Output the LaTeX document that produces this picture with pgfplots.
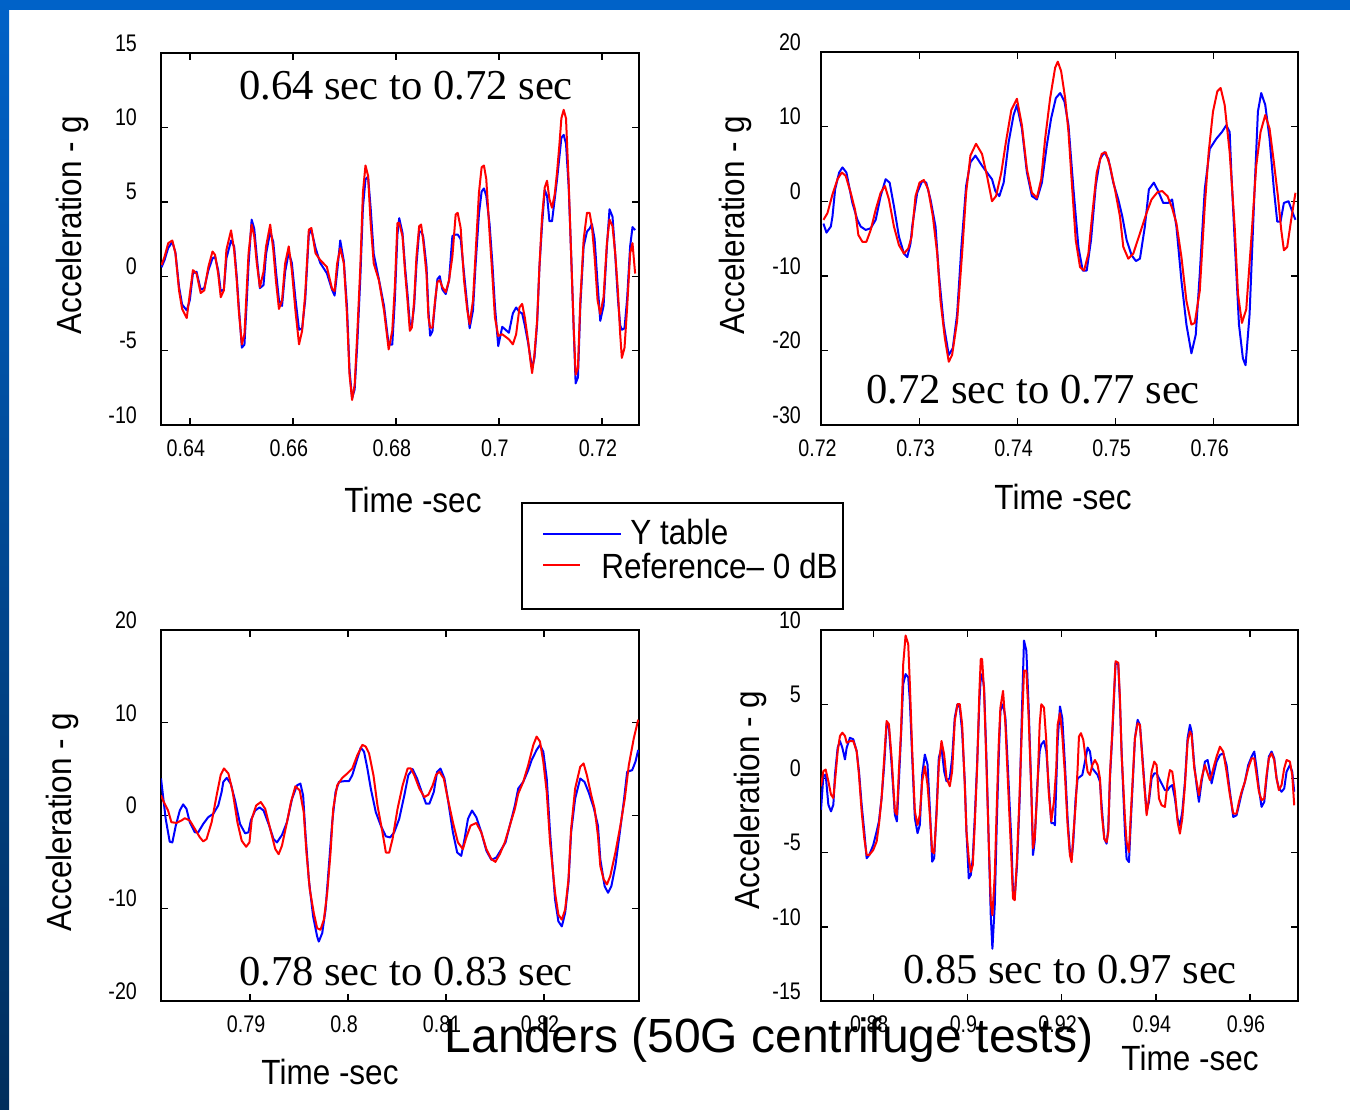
\documentclass[border=0pt]{standalone}
\usepackage{fontspec}
\setmainfont{Liberation Sans}
\newfontfamily\ticknarrow[FakeStretch=0.82]{Liberation Sans}
\newfontfamily\labnarrow[FakeStretch=0.9]{Liberation Sans}
\newfontfamily\timesfont{Liberation Serif}
\usepackage{pgfplots}
\pgfplotsset{compat=1.18}

\definecolor{slideblue}{RGB}{0,98,200}
\definecolor{slidedark}{RGB}{0,46,92}

\newcommand{\axlab}{\labnarrow\fontsize{17.5}{17.5}\selectfont}
\newcommand{\annot}{\timesfont\fontsize{21.3}{21.3}\selectfont}

\pgfplotsset{
  panel/.style={
    scale only axis, anchor=south west,
    axis line style={line width=1.1pt},
    tick style={black, line width=0.7pt},
    major tick length=3.5pt,
    tick label style={font=\ticknarrow\fontsize{12}{12}\selectfont},
    xticklabel style={yshift=-4pt, xshift=-2pt},
    yticklabel style={yshift=5pt},
  },
  ytab/.style={blue, line width=1pt, mark=none, line join=round},
  refd/.style={red, line width=1pt, mark=none, line join=round},
}

\begin{document}
\begin{tikzpicture}[x=0.5pt,y=-0.5pt]
% slide background
\fill[white] (0,0) rectangle (1350,1109);
\fill[slideblue] (0,0) rectangle (1350,10);
\shade[top color=slideblue, bottom color=slidedark] (0,0) rectangle (9,1109);

% ---------- 0.64 to 0.72 sec ----------
\begin{axis}[panel, at={(80.5pt,-212.5pt)}, width=239pt, height=186pt,
  xmin=0.6344, xmax=0.7272, ymin=-10, ymax=15,
  xtick={0.64,0.66,0.68,0.70,0.72}, xticklabels={0.64,0.66,0.68,0.7,0.72},
  ytick={-10,-5,0,5,10,15}, yticklabels={-10,-5,0,5,10,15},
  yticklabel style={xshift=-8.5pt}]
\addplot[ytab] coordinates {
(0.6345,0.6) (0.6351,1.1) (0.6358,1.9) (0.6366,2.3) (0.6372,1.6) (0.6379,-0.7) (0.6385,-1.9) (0.6394,-2.3) (0.6400,-1.6) (0.6406,0.2) (0.6413,0.3) (0.6421,-0.9) (0.6428,-0.8) (0.6436,0.4) (0.6444,1.2) (0.6449,1.3) (0.6455,0.4) (0.6460,-1.0) (0.6466,-0.9) (0.6471,1.2) (0.6480,2.4) (0.6486,2.0) (0.6491,0.0) (0.6495,-2.0) (0.6501,-4.8) (0.6506,-4.6) (0.6510,-2.0) (0.6514,0.8) (0.6520,3.8) (0.6525,3.2) (0.6530,1.3) (0.6536,-0.8) (0.6543,-0.6) (0.6548,1.5) (0.6556,3.0) (0.6562,2.3) (0.6567,0.4) (0.6573,-1.6) (0.6579,-2.0) (0.6585,0.3) (0.6592,1.6) (0.6598,0.9) (0.6605,-1.5) (0.6612,-3.6) (0.6618,-3.5) (0.6624,-1.6) (0.6631,2.8) (0.6636,3.1) (0.6644,1.9) (0.6653,0.9) (0.6666,0.2) (0.6676,-0.9) (0.6681,-1.3) (0.6686,0.3) (0.6692,2.4) (0.6699,1.0) (0.6705,-2.0) (0.6710,-6.3) (0.6715,-8.2) (0.6720,-7.6) (0.6725,-4.6) (0.6731,-0.1) (0.6736,4.6) (0.6741,6.5) (0.6746,6.7) (0.6751,4.6) (0.6757,1.5) (0.6767,-0.2) (0.6777,-2.0) (0.6786,-4.6) (0.6793,-4.6) (0.6798,-1.6) (0.6803,2.8)
(0.68065,3.9) (0.68129,2.9) (0.68181,0.5) (0.68226,-1.2) (0.68271,-3.2) (0.68310,-3.3) (0.68355,-2.0) (0.68400,0.8) (0.68452,3.0) (0.68490,3.0) (0.68529,2.7) (0.68594,0.7) (0.68632,-2.3) (0.68665,-4.0) (0.68710,-3.7) (0.68761,-1.8) (0.68806,-0.2) (0.68852,0.0) (0.68903,-0.9) (0.68968,-1.2) (0.69032,-0.3) (0.69097,2.7) (0.69161,2.8) (0.69200,2.8) (0.69258,2.5) (0.69323,0.2) (0.69387,-2.0) (0.69432,-3.5) (0.69497,-2.3) (0.69548,0.8) (0.69613,4.2) (0.69665,5.7) (0.69710,5.9) (0.69755,5.4) (0.69819,3.5) (0.69871,1.0) (0.69923,-2.0) (0.69987,-4.7) (0.70065,-3.4) (0.70194,-3.8) (0.70271,-2.5) (0.70335,-2.1) (0.70400,-2.4) (0.70452,-2.5) (0.70503,-3.3) (0.70568,-4.5) (0.70613,-5.5) (0.70645,-6.2) (0.70690,-5.5) (0.70742,-3.2) (0.70787,0.6) (0.70839,3.5) (0.70890,5.8) (0.70935,5.4) (0.70981,3.7) (0.71032,3.7) (0.71084,5.2) (0.71129,6.5) (0.71174,8.0) (0.71213,9.3) (0.71258,9.5) (0.71303,8.9) (0.71355,6.0) (0.71406,1.2) (0.71452,-3.5) (0.71490,-7.2) (0.71535,-6.8) (0.71581,-2.0) (0.71645,2.0) (0.71710,3.0) (0.71761,3.2) (0.71806,3.5) (0.71858,2.5) (0.71916,-0.5) (0.71968,-3.0) (0.72032,-2.0) (0.72097,2.0) (0.72148,4.5) (0.72206,4.0) (0.72258,1.5) (0.72310,-1.5) (0.72355,-3.3) (0.72387,-3.6) (0.72439,-3.5) (0.72490,-1.5) (0.72548,2.0) (0.72594,3.3) (0.72645,3.1)
};
\addplot[refd] coordinates {
(0.6345,0.75) (0.6351,1.32) (0.6358,2.22) (0.6366,2.40) (0.6372,1.54) (0.6379,-0.95) (0.6385,-2.20) (0.6394,-2.81) (0.6400,-1.18) (0.6406,0.41) (0.6413,0.18) (0.6421,-1.13) (0.6428,-0.95) (0.6436,0.63) (0.6444,1.66) (0.6449,1.43) (0.6455,0.18) (0.6460,-1.41) (0.6466,-0.95) (0.6471,1.77) (0.6480,3.08) (0.6486,1.77) (0.6491,-0.27) (0.6495,-2.31) (0.6501,-4.58) (0.6506,-3.90) (0.6510,-1.18) (0.6514,1.54) (0.6520,3.47) (0.6525,2.68) (0.6530,0.86) (0.6536,-0.73) (0.6543,0.29) (0.6548,2.00) (0.6556,3.47) (0.6562,1.77) (0.6567,-0.27) (0.6573,-2.20) (0.6579,-1.63) (0.6585,0.86) (0.6592,2.00) (0.6598,0.41) (0.6605,-2.31) (0.6612,-4.58) (0.6618,-3.67) (0.6624,-1.18) (0.6631,3.13) (0.6636,3.24) (0.6644,1.54) (0.6653,1.09) (0.6666,0.63) (0.6676,-0.84) (0.6681,-1.00) (0.6686,0.86) (0.6692,1.88) (0.6699,0.86) (0.6705,-2.54) (0.6710,-6.62) (0.6715,-8.32) (0.6720,-7.30) (0.6725,-3.90) (0.6731,0.63) (0.6736,5.62) (0.6741,7.44) (0.6746,6.76) (0.6751,3.58) (0.6757,0.86) (0.6767,-0.27) (0.6777,-2.31) (0.6786,-4.92) (0.6793,-3.67) (0.6798,-0.73) (0.6803,3.58)
(0.68065,3.58) (0.68129,2.68) (0.68181,0.18) (0.68226,-1.63) (0.68271,-3.67) (0.68310,-3.45) (0.68355,-1.63) (0.68400,1.32) (0.68452,3.36) (0.68490,3.47) (0.68529,2.45) (0.68594,0.18) (0.68632,-2.77) (0.68665,-3.45) (0.68710,-3.45) (0.68761,-1.63) (0.68806,-0.39) (0.68852,-0.27) (0.68903,-0.73) (0.68968,-1.07) (0.69032,-0.27) (0.69097,1.32) (0.69161,4.15) (0.69200,4.26) (0.69258,3.24) (0.69323,-0.27) (0.69387,-2.31) (0.69432,-3.22) (0.69497,-1.63) (0.69548,1.54) (0.69613,5.62) (0.69665,7.32) (0.69710,7.44) (0.69755,6.53) (0.69819,2.90) (0.69871,0.18) (0.69923,-2.77) (0.69987,-4.01) (0.70065,-3.90) (0.70194,-4.24) (0.70271,-4.58) (0.70335,-3.90) (0.70400,-2.09) (0.70452,-1.86) (0.70503,-2.77) (0.70568,-4.35) (0.70613,-5.71) (0.70645,-6.51) (0.70690,-5.26) (0.70742,-2.99) (0.70787,0.63) (0.70839,4.04) (0.70890,5.96) (0.70935,6.42) (0.70981,5.17) (0.71032,4.60) (0.71084,5.51) (0.71129,6.98) (0.71174,8.80) (0.71213,10.61) (0.71258,11.18) (0.71303,10.61) (0.71355,6.30) (0.71406,1.09) (0.71452,-3.45) (0.71490,-6.62) (0.71535,-6.17) (0.71581,-1.63) (0.71645,2.45) (0.71710,4.26) (0.71761,4.26) (0.71806,3.36) (0.71858,1.32) (0.71916,-1.63) (0.71968,-2.54) (0.72032,-1.41) (0.72097,2.22) (0.72148,3.81) (0.72206,3.36) (0.72258,1.54) (0.72310,-0.95) (0.72355,-3.90) (0.72387,-5.49) (0.72439,-4.81) (0.72490,-2.09) (0.72548,1.54) (0.72594,2.22) (0.72645,0.18)
};
\end{axis}

% ---------- 0.72 to 0.77 sec ----------
\begin{axis}[panel, at={(410.5pt,-212.5pt)}, width=238.5pt, height=186.5pt,
  xmin=0.71995, xmax=0.7686, ymin=-30, ymax=20,
  xtick={0.72,0.73,0.74,0.75,0.76}, xticklabels={0.72,0.73,0.74,0.75,0.76},
  ytick={-30,-20,-10,0,10,20}, yticklabels={-30,-20,-10,0,10,20},
  yticklabel style={xshift=-6.5pt}]
\addplot[ytab] coordinates {
(0.7202,-3.0) (0.72051,-4.21) (0.72095,-3.40) (0.72112,-2.04) (0.72139,1.59) (0.72180,3.85) (0.72214,4.53) (0.72254,3.85) (0.72315,-0.23) (0.72366,-2.49) (0.72400,-3.40) (0.72451,-3.85) (0.72502,-3.62) (0.72553,-2.49) (0.72603,0.68) (0.72654,2.95) (0.72695,2.49) (0.72739,-0.68) (0.72790,-4.76) (0.72841,-7.02) (0.72875,-7.48) (0.72908,-5.66) (0.72925,-3.40) (0.72976,1.13) (0.73027,2.72) (0.73068,2.49) (0.73112,0.23) (0.73163,-3.40) (0.73197,-9.74) (0.73247,-16.54) (0.73298,-20.62) (0.73339,-19.71) (0.73383,-15.18) (0.73427,-6.12) (0.73475,2.04) (0.73519,5.21) (0.73570,6.12) (0.73637,4.76) (0.73688,3.85) (0.73739,2.95) (0.73773,1.36) (0.73814,0.68) (0.73858,2.49) (0.73909,7.93) (0.73959,11.55) (0.73993,12.91) (0.74044,9.74) (0.74095,3.85) (0.74146,0.68) (0.74197,0.23) (0.74248,2.49) (0.74298,7.48) (0.74342,11.10) (0.74390,13.82) (0.74434,14.50) (0.74478,13.37) (0.74519,10.19) (0.74570,1.59) (0.74620,-6.12) (0.74664,-9.29) (0.74705,-9.29) (0.74749,-5.21) (0.74797,2.04) (0.74841,5.66) (0.74885,6.57) (0.74926,5.66) (0.74976,2.49) (0.75027,0.23) (0.75068,-2.04) (0.75112,-5.21) (0.75163,-7.25) (0.75207,-8.02) (0.75248,-7.70) (0.75298,-3.40) (0.75339,1.59) (0.75390,2.49) (0.75434,1.36) (0.75485,-0.23) (0.75536,-0.23) (0.75576,0.23) (0.75620,-3.40) (0.75671,-10.65) (0.75722,-16.54) (0.75773,-20.39) (0.75817,-17.90) (0.75858,-9.74) (0.75909,1.59) (0.75960,7.02) (0.76027,8.38) (0.76085,9.29) (0.76129,10.19) (0.76163,9.29) (0.76180,3.85) (0.76214,-5.21) (0.76258,-16.54) (0.76298,-21.07) (0.76325,-21.98) (0.76366,-15.18) (0.76410,-0.68) (0.76451,12.01) (0.76485,14.50) (0.76526,12.91) (0.76570,8.38) (0.76614,1.59) (0.76648,-2.72) (0.76682,-2.72) (0.76716,-0.23) (0.76763,0.00) (0.76807,-1.59) (0.76834,-2.49)
};
\addplot[refd] coordinates {
(0.7202,-2.5) (0.72061,-1.59) (0.72112,0.91) (0.72163,2.95) (0.72207,3.85) (0.72247,3.40) (0.72298,1.13) (0.72342,-1.13) (0.72376,-4.53) (0.72417,-5.44) (0.72458,-5.44) (0.72502,-3.85) (0.72553,-1.13) (0.72603,1.13) (0.72647,2.04) (0.72688,0.23) (0.72739,-3.40) (0.72790,-5.89) (0.72841,-7.02) (0.72885,-6.34) (0.72919,-4.76) (0.72959,0.68) (0.73000,2.49) (0.73044,2.85) (0.73088,1.59) (0.73136,-2.04) (0.73180,-7.02) (0.73214,-13.37) (0.73258,-18.35) (0.73298,-21.52) (0.73332,-20.62) (0.73383,-16.09) (0.73434,-7.02) (0.73475,1.13) (0.73519,6.12) (0.73576,7.70) (0.73637,6.34) (0.73688,3.40) (0.73739,0.00) (0.73780,0.68) (0.73834,3.85) (0.73881,7.93) (0.73936,12.23) (0.73993,13.73) (0.74044,10.19) (0.74095,4.30) (0.74146,1.13) (0.74197,0.45) (0.74241,2.95) (0.74281,8.38) (0.74332,13.82) (0.74383,17.90) (0.74410,18.71) (0.74444,17.44) (0.74485,13.82) (0.74519,9.29) (0.74553,2.49) (0.74593,-5.21) (0.74637,-8.84) (0.74678,-9.29) (0.74722,-7.02) (0.74763,-1.59) (0.74807,3.85) (0.74858,6.34) (0.74898,6.57) (0.74942,4.76) (0.74993,1.59) (0.75044,-2.04) (0.75078,-6.12) (0.75129,-7.70) (0.75180,-7.02) (0.75248,-4.30) (0.75315,-1.59) (0.75366,0.23) (0.75427,1.22) (0.75475,1.36) (0.75529,0.68) (0.75576,-0.91) (0.75620,-2.95) (0.75671,-7.48) (0.75722,-13.37) (0.75773,-16.54) (0.75807,-16.31) (0.75858,-12.01) (0.75909,-0.68) (0.75949,6.57) (0.75993,12.01) (0.76037,14.73) (0.76071,15.18) (0.76112,12.91) (0.76163,6.57) (0.76214,-3.40) (0.76248,-12.46) (0.76288,-16.31) (0.76332,-14.50) (0.76383,-5.21) (0.76434,4.76) (0.76478,9.29) (0.76526,11.55) (0.76570,9.74) (0.76614,5.21) (0.76655,0.68) (0.76689,-3.85) (0.76716,-6.57) (0.76750,-6.12) (0.76790,-2.49) (0.76834,1.13)
};
\end{axis}

% ---------- 0.78 to 0.83 sec ----------
\begin{axis}[panel, at={(80.5pt,-500.5pt)}, width=239pt, height=185.5pt,
  xmin=0.7809, xmax=0.8297, ymin=-20, ymax=20,
  xtick={0.79,0.80,0.81,0.82}, xticklabels={0.79,0.8,0.81,0.82},
  ytick={-20,-10,0,10,20}, yticklabels={-20,-10,0,10,20},
  yticklabel style={xshift=-8.5pt}]
\addplot[ytab] coordinates {
(0.7809,4.0) (0.78138,-0.36) (0.78179,-2.83) (0.78206,-2.90) (0.78241,-1.09) (0.78282,0.54) (0.78316,1.20) (0.78350,0.72) (0.78384,-0.72) (0.78436,-1.81) (0.78470,-1.81) (0.78521,-0.91) (0.78572,-0.18) (0.78624,0.18) (0.78675,1.09) (0.78709,2.54) (0.78726,3.62) (0.78761,4.06) (0.78802,3.44) (0.78846,1.63) (0.78897,-0.91) (0.78949,-1.92) (0.78983,-1.81) (0.79007,-0.54) (0.79051,0.54) (0.79096,0.87) (0.79137,0.54) (0.79188,-0.91) (0.79239,-2.54) (0.79274,-2.90) (0.79325,-2.10) (0.79376,-0.72) (0.79428,1.81) (0.79479,3.26) (0.79513,3.44) (0.79541,2.17) (0.79564,-1.81) (0.79599,-6.88) (0.79643,-10.87) (0.79684,-13.04) (0.79701,-13.59) (0.79736,-12.68) (0.79770,-10.14) (0.79804,-5.43) (0.79838,-0.72) (0.79872,2.54) (0.79907,3.62) (0.79958,3.70) (0.80009,3.70) (0.80043,4.35) (0.80095,6.16) (0.80129,7.32) (0.80163,6.88) (0.80197,5.07) (0.80232,2.90) (0.80283,0.36) (0.80334,-1.09) (0.80386,-2.25) (0.80430,-2.36) (0.80471,-1.81) (0.80522,-0.36) (0.80574,2.17) (0.80615,4.35) (0.80659,5.00) (0.80704,3.99) (0.80752,2.54) (0.80796,1.27) (0.80830,1.27) (0.80875,2.54) (0.80909,4.71) (0.80943,5.07) (0.80984,3.99) (0.81018,1.81) (0.81070,-1.81) (0.81114,-3.99) (0.81155,-4.35) (0.81189,-2.54) (0.81224,-0.36) (0.81265,0.54) (0.81309,-0.18) (0.81360,-1.81) (0.81412,-3.80) (0.81463,-4.78) (0.81514,-4.53) (0.81566,-3.62) (0.81607,-2.90) (0.81651,-1.09) (0.81703,1.09) (0.81737,2.90) (0.81788,3.62) (0.81839,4.89) (0.81874,5.98) (0.81925,7.07) (0.81959,7.61) (0.81993,6.88) (0.82028,3.99) (0.82062,-1.81) (0.82113,-9.06) (0.82147,-11.41) (0.82182,-11.96) (0.82216,-10.51) (0.82250,-7.25) (0.82277,-1.81) (0.82318,1.81) (0.82370,3.99) (0.82414,3.62) (0.82455,2.54) (0.82506,0.91) (0.82551,-1.09) (0.82575,-4.71) (0.82619,-7.61) (0.82654,-8.33) (0.82688,-7.61) (0.82729,-5.43) (0.82770,-2.17) (0.82814,1.45) (0.82849,4.71) (0.82900,4.89) (0.82934,5.80) (0.82962,7.07)
};
\addplot[refd] coordinates {
(0.7809,2.2) (0.78111,1.63) (0.78162,0.54) (0.78196,-0.72) (0.78247,-0.80) (0.78299,-0.54) (0.78333,-0.29) (0.78384,-0.54) (0.78436,-1.45) (0.78487,-2.36) (0.78521,-2.79) (0.78555,-2.54) (0.78607,-0.72) (0.78658,2.17) (0.78699,4.35) (0.78733,5.07) (0.78778,4.53) (0.78822,2.54) (0.78870,-0.72) (0.78914,-2.72) (0.78959,-3.37) (0.78993,-2.90) (0.79017,-0.36) (0.79062,1.09) (0.79109,1.45) (0.79154,0.72) (0.79205,-1.45) (0.79257,-3.62) (0.79291,-4.17) (0.79325,-3.26) (0.79376,-0.72) (0.79417,1.45) (0.79462,3.15) (0.79506,2.72) (0.79547,0.36) (0.79575,-3.99) (0.79609,-7.97) (0.79650,-10.51) (0.79684,-12.14) (0.79718,-12.32) (0.79753,-11.23) (0.79787,-8.33) (0.79821,-3.99) (0.79848,0.72) (0.79889,3.26) (0.79941,4.06) (0.79992,4.53) (0.80043,5.07) (0.80095,6.52) (0.80146,7.61) (0.80180,7.43) (0.80214,6.70) (0.80259,4.35) (0.80300,1.09) (0.80351,-1.81) (0.80386,-3.99) (0.80420,-3.99) (0.80454,-2.54) (0.80505,0.72) (0.80557,3.26) (0.80608,5.07) (0.80642,5.07) (0.80676,4.35) (0.80728,2.90) (0.80779,1.99) (0.80820,2.25) (0.80864,3.26) (0.80899,4.42) (0.80933,4.71) (0.80977,3.99) (0.81018,1.81) (0.81070,-0.72) (0.81121,-2.90) (0.81172,-3.62) (0.81207,-2.36) (0.81251,-1.09) (0.81309,-0.80) (0.81360,-1.81) (0.81412,-3.62) (0.81463,-4.71) (0.81504,-5.00) (0.81549,-4.17) (0.81600,-2.90) (0.81651,-1.09) (0.81703,0.72) (0.81737,2.36) (0.81788,3.62) (0.81839,5.43) (0.81891,7.61) (0.81925,8.51) (0.81959,7.97) (0.81993,5.80) (0.82028,2.54) (0.82062,-2.90) (0.82113,-8.33) (0.82147,-10.69) (0.82182,-11.23) (0.82216,-10.14) (0.82250,-6.88) (0.82277,-1.45) (0.82318,2.90) (0.82370,5.25) (0.82404,5.62) (0.82438,4.35) (0.82483,2.17) (0.82517,0.72) (0.82551,-2.17) (0.82575,-5.43) (0.82609,-6.88) (0.82643,-7.43) (0.82677,-6.52) (0.82729,-3.99) (0.82780,-1.09) (0.82825,1.81) (0.82866,5.43) (0.82917,8.33) (0.82962,10.33)
};
\end{axis}

% ---------- 0.85 to 0.97 sec ----------
\begin{axis}[panel, at={(410.5pt,-500.5pt)}, width=238.5pt, height=185.5pt,
  xmin=0.8689, xmax=0.9702, ymin=-15, ymax=10,
  xtick={0.88,0.90,0.92,0.94,0.96}, xticklabels={0.88,0.9,0.92,0.94,0.96},
  ytick={-15,-10,-5,0,5,10}, yticklabels={-15,-10,-5,0,5,10},
  yticklabel style={xshift=-6.5pt}]
\addplot[ytab] coordinates {
(0.8689,-2.11) (0.86940,0.15) (0.86989,0.26) (0.87046,-1.77) (0.87102,-2.22) (0.87152,-1.77) (0.87187,0.26) (0.87244,2.07) (0.87293,2.52) (0.87343,2.07) (0.87399,1.28) (0.87435,2.07) (0.87505,2.74) (0.87576,2.63) (0.87647,1.84) (0.87696,0.49) (0.87753,-1.77) (0.87809,-3.58) (0.87859,-5.38) (0.87915,-5.16) (0.88000,-4.48) (0.88071,-3.58) (0.88120,-2.90) (0.88177,-1.32) (0.88233,0.94) (0.88283,3.65) (0.88332,3.42) (0.88389,0.94) (0.88459,-2.45) (0.88502,-2.90) (0.88544,-0.19) (0.88587,2.74) (0.88636,6.35) (0.88686,7.03) (0.88742,6.81) (0.88777,5.23) (0.88827,1.39) (0.88883,-2.67) (0.88940,-3.69) (0.88989,-3.13) (0.89039,0.26) (0.89095,1.61) (0.89152,0.94) (0.89201,-1.98) (0.89251,-5.61) (0.89293,-5.38) (0.89343,-2.22) (0.89392,1.39) (0.89449,2.07) (0.89505,0.49) (0.89555,-0.19) (0.89625,0.03) (0.89675,1.39) (0.89731,4.10) (0.89788,5.00) (0.89837,4.77) (0.89887,3.19) (0.89943,-0.19) (0.89979,-3.58) (0.90028,-6.74) (0.90071,-6.51) (0.90113,-5.38) (0.90155,-2.67) (0.90205,0.94) (0.90254,5.23) (0.90283,6.81) (0.90311,7.03) (0.90353,6.13) (0.90403,1.39) (0.90452,-4.26) (0.90495,-9.22) (0.90530,-11.48) (0.90580,-8.54) (0.90622,-3.13) (0.90664,1.39) (0.90700,4.55) (0.90756,5.00) (0.90806,4.10) (0.90862,0.49) (0.90933,-4.26) (0.90968,-7.64) (0.91004,-7.98) (0.91053,-5.84) (0.91110,-1.32) (0.91159,4.77) (0.91201,9.29) (0.91251,8.61) (0.91300,4.77) (0.91357,-0.87) (0.91392,-5.16) (0.91428,-4.26) (0.91484,-0.42) (0.91534,1.84) (0.91569,2.29) (0.91625,2.52) (0.91675,1.84) (0.91724,-0.42) (0.91781,-3.01) (0.91837,-3.01) (0.91858,-3.16) (0.91915,2.48) (0.91965,4.85) (0.92014,4.06) (0.92071,0.90) (0.92127,-2.71) (0.92177,-4.97) (0.92212,-5.42) (0.92248,-4.29) (0.92297,-1.35) (0.92340,0.00) (0.92389,0.11) (0.92439,0.23) (0.92495,1.13) (0.92552,2.08) (0.92602,1.81) (0.92651,0.68) (0.92708,0.45) (0.92764,0.23) (0.92814,-0.23) (0.92849,-1.81) (0.92906,-4.06) (0.92955,-4.40) (0.92991,-3.39) (0.93026,0.00) (0.93076,2.93) (0.93118,5.87) (0.93146,7.79) (0.93203,7.67) (0.93238,5.19) (0.93274,1.81) (0.93309,-0.90) (0.93345,-3.61) (0.93380,-5.42) (0.93430,-5.64) (0.93472,-2.71) (0.93522,0.45) (0.93557,2.71) (0.93614,3.95) (0.93663,3.61) (0.93713,1.58) (0.93755,-0.23) (0.93805,-2.26) (0.93854,-1.58) (0.93911,0.00) (0.93967,0.34) (0.94017,0.34) (0.94067,0.00) (0.94123,-0.34) (0.94194,-0.79) (0.94251,-0.79) (0.94300,-0.56) (0.94350,-0.45) (0.94406,-1.35) (0.94463,-2.71) (0.94512,-3.16) (0.94562,-2.26) (0.94619,-0.23) (0.94675,2.71) (0.94725,3.61) (0.94760,3.16) (0.94817,0.90) (0.94866,-0.45) (0.94916,-1.58) (0.94972,-0.23) (0.95043,1.13) (0.95100,1.24) (0.95149,0.45) (0.95185,-0.34) (0.95241,0.45) (0.95291,1.13) (0.95362,1.58) (0.95432,1.69) (0.95503,0.90) (0.95574,-0.90) (0.95645,-2.60) (0.95715,-2.48) (0.95765,-1.81) (0.95822,-1.02) (0.95892,-0.23) (0.95963,0.90) (0.96034,1.47) (0.96091,1.81) (0.96140,0.68) (0.96190,-0.68) (0.96246,-1.92) (0.96303,-1.58) (0.96352,0.00) (0.96402,1.47) (0.96459,1.81) (0.96515,1.35) (0.96565,0.00) (0.96614,-0.68) (0.96671,-0.90) (0.96727,-0.68) (0.96777,0.45) (0.96848,0.90) (0.96897,0.45) (0.96940,-0.90)
};
\addplot[refd] coordinates {
(0.8689,-0.53) (0.86940,0.49) (0.86989,0.60) (0.87046,-0.19) (0.87102,-1.09) (0.87152,-1.32) (0.87187,-0.19) (0.87244,1.84) (0.87293,2.86) (0.87343,3.08) (0.87399,2.86) (0.87435,2.40) (0.87505,2.52) (0.87576,2.52) (0.87647,1.84) (0.87696,0.26) (0.87753,-2.22) (0.87809,-4.03) (0.87859,-5.16) (0.87915,-5.16) (0.88000,-4.82) (0.88071,-4.26) (0.88120,-3.13) (0.88177,-1.32) (0.88233,1.39) (0.88283,3.87) (0.88332,3.65) (0.88389,1.39) (0.88459,-2.22) (0.88502,-2.45) (0.88544,0.49) (0.88587,2.97) (0.88636,7.71) (0.88686,9.63) (0.88742,9.06) (0.88777,6.35) (0.88827,1.84) (0.88883,-2.22) (0.88940,-3.13) (0.88989,-2.45) (0.89039,-0.19) (0.89095,0.82) (0.89152,-0.42) (0.89201,-2.45) (0.89251,-4.93) (0.89293,-5.05) (0.89343,-2.45) (0.89392,0.94) (0.89449,2.52) (0.89505,1.61) (0.89555,0.03) (0.89625,-0.53) (0.89675,0.49) (0.89731,3.87) (0.89788,5.00) (0.89837,5.00) (0.89887,3.65) (0.89943,-0.42) (0.89979,-3.58) (0.90028,-5.38) (0.90071,-6.29) (0.90113,-5.84) (0.90155,-3.13) (0.90205,0.71) (0.90254,5.90) (0.90283,8.05) (0.90311,8.05) (0.90353,5.90) (0.90403,0.94) (0.90452,-4.26) (0.90495,-8.32) (0.90530,-9.22) (0.90580,-6.51) (0.90622,-1.98) (0.90664,2.29) (0.90700,4.77) (0.90756,5.90) (0.90806,3.65) (0.90862,-0.42) (0.90933,-5.38) (0.90968,-8.09) (0.91004,-8.21) (0.91053,-5.38) (0.91110,-0.87) (0.91159,3.65) (0.91201,7.26) (0.91251,7.26) (0.91300,4.10) (0.91357,-0.87) (0.91392,-4.70) (0.91428,-4.03) (0.91484,-0.87) (0.91534,3.65) (0.91569,5.00) (0.91625,4.77) (0.91675,2.52) (0.91724,-0.87) (0.91781,-2.90) (0.91837,-1.55) (0.91887,0.71) (0.91915,3.61) (0.91965,4.40) (0.92014,2.93) (0.92071,0.23) (0.92127,-3.16) (0.92177,-5.19) (0.92212,-5.64) (0.92248,-3.84) (0.92297,-1.81) (0.92340,0.68) (0.92368,2.82) (0.92410,3.05) (0.92460,2.60) (0.92510,1.35) (0.92552,0.45) (0.92602,0.23) (0.92651,0.90) (0.92708,1.24) (0.92764,0.90) (0.92814,0.00) (0.92849,-2.26) (0.92906,-4.06) (0.92955,-4.29) (0.92991,-3.61) (0.93026,0.23) (0.93076,3.16) (0.93118,6.09) (0.93146,7.90) (0.93203,7.79) (0.93238,5.42) (0.93274,1.58) (0.93309,-0.45) (0.93345,-2.71) (0.93380,-4.29) (0.93430,-4.97) (0.93472,-2.26) (0.93522,0.68) (0.93557,2.71) (0.93614,3.72) (0.93663,3.61) (0.93713,1.35) (0.93755,-0.45) (0.93805,-2.48) (0.93854,-1.35) (0.93911,0.45) (0.93967,1.13) (0.94017,0.90) (0.94067,-1.35) (0.94123,-1.81) (0.94194,-1.92) (0.94251,-0.23) (0.94300,0.56) (0.94350,0.45) (0.94406,-0.90) (0.94463,-2.93) (0.94512,-3.72) (0.94562,-2.71) (0.94619,-0.45) (0.94675,2.48) (0.94725,3.16) (0.94760,2.93) (0.94817,0.68) (0.94866,-0.23) (0.94916,-1.13) (0.94972,0.00) (0.95043,0.90) (0.95100,0.34) (0.95149,-0.11) (0.95185,0.23) (0.95241,0.90) (0.95291,1.47) (0.95362,2.14) (0.95432,1.81) (0.95503,0.45) (0.95574,-1.13) (0.95645,-2.37) (0.95715,-2.37) (0.95765,-1.58) (0.95822,-0.90) (0.95892,-0.23) (0.95963,0.68) (0.96034,1.35) (0.96091,1.35) (0.96140,0.23) (0.96190,-0.90) (0.96246,-1.47) (0.96303,-1.35) (0.96352,0.23) (0.96402,1.35) (0.96459,1.69) (0.96515,1.24) (0.96565,0.00) (0.96614,-0.79) (0.96671,-0.45) (0.96727,0.68) (0.96777,1.24) (0.96848,1.13) (0.96897,0.23) (0.96940,-1.81)
};
\end{axis}

% panel annotations
\node[font=\annot] at (406,86) {0.64 sec to 0.72 sec};
\node[font=\annot] at (1033,390) {0.72 sec to 0.77 sec};
\node[font=\annot] at (406,972) {0.78 sec to 0.83 sec};
\node[font=\annot] at (1070,970) {0.85 sec to 0.97 sec};

% axis labels
\node[font=\axlab, rotate=90] at (72,225) {Acceleration - g};
\node[font=\axlab, rotate=90] at (735,225) {Acceleration - g};
\node[font=\axlab, rotate=90] at (62,822) {Acceleration - g};
\node[font=\axlab, rotate=90] at (750,800) {Acceleration - g};
\node[font=\axlab] at (413,500) {Time -sec};
\node[font=\axlab] at (1063,497) {Time -sec};
\node[font=\axlab] at (330,1072) {Time -sec};
\node[font=\axlab] at (1190,1058) {Time -sec};

% legend
\draw[line width=1.1pt, fill=white] (522,503) rectangle (843,609);
\draw[blue, line width=1pt] (543,534) -- (621,534);
\draw[red, line width=1pt] (543,565) -- (580,565);
\node[font=\axlab, anchor=west, inner sep=0pt] at (630,532) {Y table};
\node[font=\axlab, anchor=west, inner sep=0pt] at (601,566) {Reference– 0 dB};

% title
\node[font=\fontsize{24}{24}\selectfont] at (769,1040) {Landers (50G centrifuge tests)};
\end{tikzpicture}
\end{document}
